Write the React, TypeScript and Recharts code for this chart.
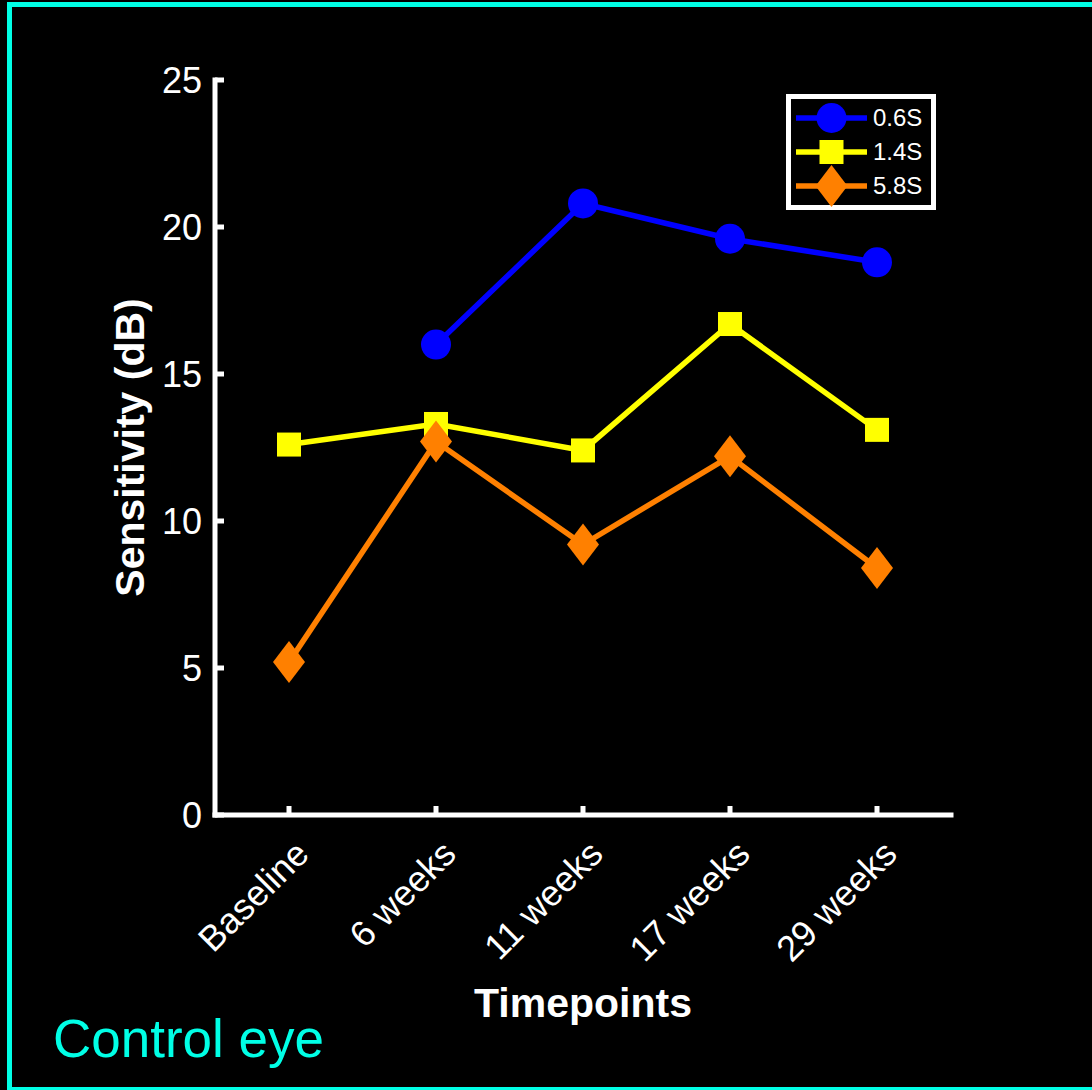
import React from "react";
import { LineChart, Line, XAxis, YAxis, Legend } from "recharts";

const categories = ["Baseline", "6 weeks", "11 weeks", "17 weeks", "29 weeks"];
const sens06 = [null, 16.0, 20.8, 19.6, 18.8];
const sens14 = [12.6, 13.3, 12.4, 16.7, 13.1];
const sens58 = [5.2, 12.7, 9.2, 12.2, 8.4];
const yTicks = [0, 5, 10, 15, 20, 25];

const FONT = '"Liberation Sans", Arial, Helvetica, sans-serif';
const CYAN = "#00FFE6";

type Shape = "circle" | "square" | "diamond";

const series: { key: string; name: string; color: string; shape: Shape }[] = [
  { key: "s06", name: "0.6S", color: "#0000FF", shape: "circle" },
  { key: "s14", name: "1.4S", color: "#FFFF00", shape: "square" },
  { key: "s58", name: "5.8S", color: "#FF8000", shape: "diamond" },
];

const data = categories.map((c, i) => ({
  name: c,
  s06: sens06[i],
  s14: sens14[i],
  s58: sens58[i],
}));

const Marker = ({ shape, cx, cy, color }: { shape: Shape; cx: number; cy: number; color: string }) => {
  if (shape === "circle") return <circle cx={cx} cy={cy} r={15} fill={color} />;
  if (shape === "square")
    return <rect x={cx - 12} y={cy - 12} width={24} height={24} fill={color} />;
  return (
    <polygon
      points={`${cx},${cy - 21} ${cx + 16},${cy} ${cx},${cy + 21} ${cx - 16},${cy}`}
      fill={color}
    />
  );
};

const XTick = (props: any) => {
  const { x, y, payload } = props;
  const ax = x + 22;
  return (
    <text
      x={ax}
      y={y}
      fill="#fff"
      fontSize={36}
      fontFamily={FONT}
      textAnchor="end"
      transform={`rotate(-45, ${ax}, ${y})`}
    >
      {payload.value}
    </text>
  );
};

const YTick = (props: any) => {
  const { x, y, payload } = props;
  return (
    <text x={x} y={y} dy="0.36em" fill="#fff" fontSize={36} fontFamily={FONT} textAnchor="end">
      {payload.value}
    </text>
  );
};

const LegendBox = (props: any) => {
  const items = props.payload || [];
  return (
    <div
      style={{
        width: 140,
        height: 104,
        border: "5px solid #fff",
        background: "#000",
        paddingTop: 2,
        fontFamily: FONT,
      }}
    >
      {series.map((s) => {
        const item = items.find((p: any) => p.dataKey === s.key);
        return (
          <div key={s.key} style={{ display: "flex", alignItems: "center", height: 34 }}>
            <svg width={80} height={34} style={{ display: "block", overflow: "visible" }}>
              <line x1={5} y1={17} x2={76} y2={17} stroke={s.color} strokeWidth={5.5} />
              <Marker shape={s.shape} cx={40.5} cy={17} color={s.color} />
            </svg>
            <span style={{ color: "#fff", fontSize: 24, marginLeft: 2 }}>
              {item ? item.value : s.name}
            </span>
          </div>
        );
      })}
    </div>
  );
};

export default function App() {
  return (
    <div
      style={{
        position: "fixed",
        left: 0,
        top: 0,
        width: 1092,
        height: 1090,
        background: "#000",
        overflow: "hidden",
      }}
    >
      <div
        style={{
          position: "absolute",
          left: 7,
          top: 2,
          width: 1100,
          height: 1090,
          boxSizing: "border-box",
          border: `5px solid ${CYAN}`,
        }}
      />
      <div style={{ position: "absolute", left: 0, top: 0 }}>
        <LineChart
          width={1092}
          height={1090}
          data={data}
          margin={{ top: 80, right: 141, left: 135, bottom: 125 }}
        >
          <XAxis
            dataKey="name"
            height={150}
            interval={0}
            padding={{ left: 74, right: 74 }}
            axisLine={{ stroke: "#fff", strokeWidth: 5, strokeLinecap: "square" }}
            tickLine={{ stroke: "#fff", strokeWidth: 5 }}
            tickSize={-9}
            tickMargin={50}
            tick={<XTick />}
            label={{
              content: (p: any) => {
                const vb = p.viewBox;
                return (
                  <text
                    x={vb.x + vb.width / 2}
                    y={1017}
                    fill="#fff"
                    fontSize={41}
                    fontWeight="bold"
                    fontFamily={FONT}
                    textAnchor="middle"
                  >
                    Timepoints
                  </text>
                );
              },
            }}
          />
          <YAxis
            width={80}
            domain={[0, 25]}
            ticks={yTicks}
            allowDataOverflow
            axisLine={{ stroke: "#fff", strokeWidth: 5, strokeLinecap: "square" }}
            tickLine={{ stroke: "#fff", strokeWidth: 5 }}
            tickSize={-9}
            tickMargin={22}
            tick={<YTick />}
            label={{
              content: (p: any) => {
                const vb = p.viewBox;
                const cx = vb.x + 9;
                const cy = vb.y + vb.height / 2;
                return (
                  <text
                    x={cx}
                    y={cy}
                    fill="#fff"
                    fontSize={41}
                    fontWeight="bold"
                    fontFamily={FONT}
                    textAnchor="middle"
                    transform={`rotate(-90, ${cx}, ${cy})`}
                  >
                    Sensitivity (dB)
                  </text>
                );
              },
            }}
          />
          <Legend
            layout="vertical"
            align="center"
            verticalAlign="middle"
            content={<LegendBox />}
            wrapperStyle={{ position: "absolute", left: 786, top: 94, width: "auto", height: "auto" }}
          />
          {series.map((s) => (
            <Line
              key={s.key}
              dataKey={s.key}
              name={s.name}
              stroke={s.color}
              strokeWidth={5.5}
              isAnimationActive={false}
              activeDot={false}
              dot={(p: any) =>
                p.cx == null || p.cy == null || p.value == null ? (
                  <g key={`${s.key}-${p.index}`} />
                ) : (
                  <Marker key={`${s.key}-${p.index}`} shape={s.shape} cx={p.cx} cy={p.cy} color={s.color} />
                )
              }
            />
          ))}
        </LineChart>
      </div>
      <div
        style={{
          position: "absolute",
          left: 53,
          top: 1012,
          fontFamily: FONT,
          fontSize: 53,
          lineHeight: "53px",
          color: CYAN,
          whiteSpace: "nowrap",
        }}
      >
        Control eye
      </div>
    </div>
  );
}
